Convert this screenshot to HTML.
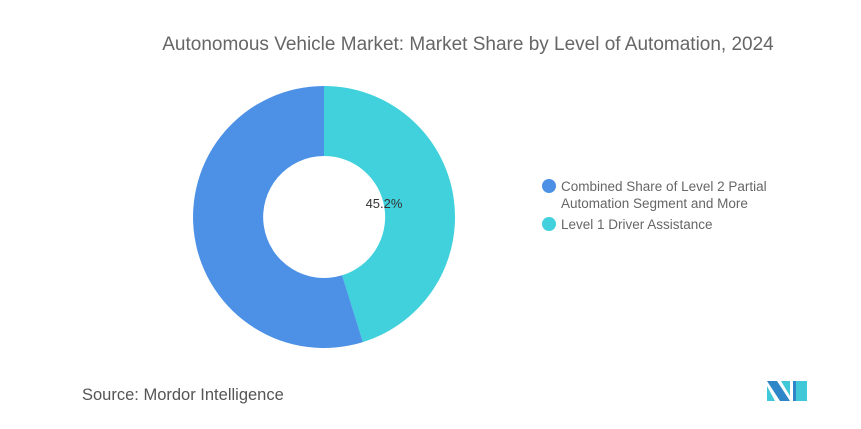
<!DOCTYPE html>
<html><head><style>
body{margin:0;background:#fff;width:861px;height:424px;overflow:hidden;font-family:"Liberation Sans",sans-serif;}
</style></head><body>
<svg width="861" height="424" xmlns="http://www.w3.org/2000/svg" font-family="Liberation Sans, sans-serif">
<text x="468" y="50" text-anchor="middle" font-size="19" fill="#666">Autonomous Vehicle Market: Market Share by Level of Automation, 2024</text>
<path d="M324,86 A131,131 0 0 1 362.9,342.1 L342.1,275.3 A61,61 0 0 0 324,156 Z" fill="#40D1DC"/>
<path d="M362.9,342.1 A131,131 0 1 1 324,86 L324,156 A61,61 0 1 0 342.1,275.3 Z" fill="#4C91E6"/>
<text x="384" y="208" text-anchor="middle" font-size="13" fill="#333">45.2%</text>
<circle cx="549" cy="186" r="7" fill="#4C91E6"/>
<text x="561" y="191" font-size="13.5" fill="#666">Combined Share of Level 2 Partial</text>
<text x="561" y="208" font-size="13.5" fill="#666">Automation Segment and More</text>
<circle cx="549" cy="224" r="7" fill="#40D1DC"/>
<text x="561" y="229" font-size="13.5" fill="#666">Level 1 Driver Assistance</text>
<text x="82" y="400" font-size="16.5" fill="#555">Source:  Mordor Intelligence</text>
<polygon points="767,381 777,381 790,401 780,401" fill="#2E86C8"/>
<polygon points="767,386 775,401 767,401" fill="#40C8D8"/>
<polygon points="781,381 790,381 790,396" fill="#40C8D8"/>
<polygon points="793,381 807,381 807,401 793,401" fill="#2E86C8"/>
<polygon points="796,381 807,381 807,401 796,401" fill="#40C8D8"/>
</svg>
</body></html>
